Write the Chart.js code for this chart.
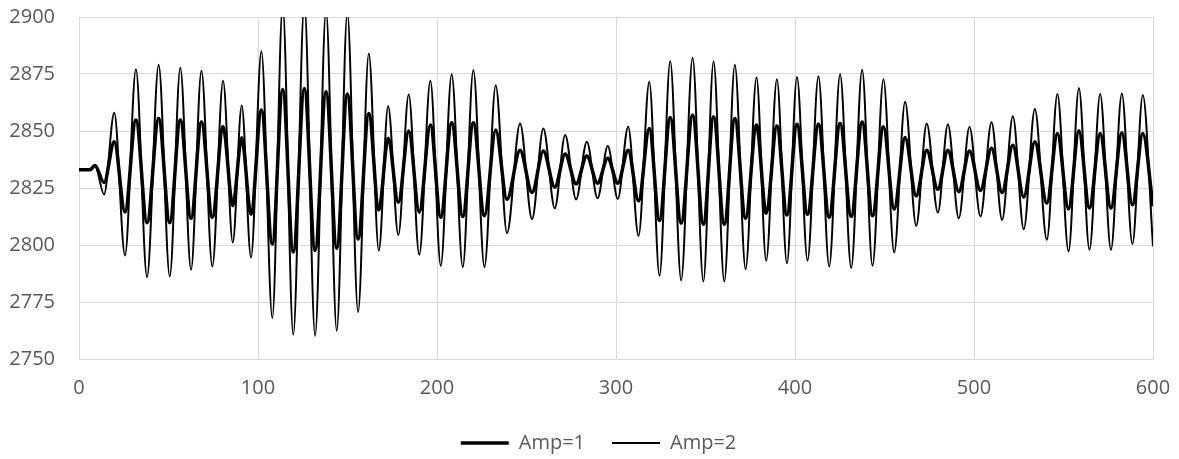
<!DOCTYPE html>
<html>
<head>
<meta charset="utf-8">
<script src="https://cdn.jsdelivr.net/npm/chart.js@4/dist/chart.umd.min.js"></script>
<style>
html,body{margin:0;padding:0;background:#ffffff;}
#wrap{width:1179px;height:459px;}
</style>
</head>
<body>
<div id="wrap"><canvas id="c" width="1179" height="459"></canvas></div>
<script>
// x positions of the read-off extrema (shared by both series)
const xPositions = [0, 6.2, 8.9, 14.0, 19.7, 25.7, 31.8, 38.0, 44.5, 50.7, 56.6, 62.6, 68.4, 74.5, 80.5, 85.9, 90.9, 96.1, 101.9, 108.0,
  113.8, 119.7, 125.9, 131.9, 138.0, 144.0, 149.9, 155.9, 161.9, 167.5, 172.7, 178.4, 184.2, 190.1, 196.3, 202.1, 208.2, 214.4, 220.3, 226.5,
  232.8, 239.1, 246.4, 253.1, 259.4, 265.8, 271.6, 277.7, 283.7, 289.7, 295.4, 301.0, 306.8, 312.6, 318.6, 324.3, 330.3, 336.4, 342.8, 348.8,
  354.5, 360.5, 366.4, 372.4, 378.5, 383.9, 389.9, 395.5, 401.1, 407.0, 413.1, 419.1, 425.2, 431.4, 437.5, 443.3, 449.4, 455.4, 461.5, 467.7,
  473.6, 479.8, 485.4, 491.5, 497.5, 503.6, 509.8, 515.7, 521.7, 527.8, 534.0, 540.7, 546.6, 552.8, 558.6, 564.5, 570.5, 576.5, 582.6, 588.5,
  594.3, 600];

// Amp=1 (thick line)
const amp1 = [2833, 2833, 2834.9, 2827.4, 2845.3, 2814.5, 2854.8, 2809.8, 2855.5, 2809.8, 2854.8, 2811.7, 2853.9, 2812.2, 2851.9, 2817.3, 2847.0, 2813.5, 2859.2, 2800.4,
  2868.2, 2796.9, 2868.6, 2797.6, 2867.2, 2798.6, 2866.2, 2802.6, 2857.7, 2815.4, 2846.8, 2818.7, 2850.0, 2814.4, 2852.6, 2812.2, 2853.6, 2812.5, 2853.6, 2812.8,
  2850.4, 2820.0, 2841.6, 2823.0, 2841.2, 2825.3, 2839.9, 2826.8, 2839.0, 2827.1, 2838.0, 2827.1, 2841.6, 2819.3, 2851.1, 2810.7, 2855.9, 2809.6, 2857.0, 2809.1,
  2856.2, 2809.1, 2855.5, 2811.7, 2852.6, 2813.9, 2852.2, 2813.2, 2853.0, 2813.5, 2853.0, 2812.2, 2853.3, 2812.5, 2854.0, 2812.8, 2851.9, 2815.7, 2847.2, 2821.5,
  2841.6, 2824.4, 2841.6, 2823.4, 2841.2, 2823.9, 2842.4, 2823.0, 2843.8, 2821.0, 2845.3, 2818.3, 2848.9, 2815.8, 2850.1, 2816.1, 2848.9, 2816.1, 2849.2, 2817.6,
  2848.9, 2817.0];

// Amp=2 (thin line)
const amp2 = [2833, 2833, 2834.9, 2822.2, 2858.0, 2795.4, 2877.1, 2785.9, 2879.1, 2786.2, 2877.7, 2789.1, 2876.4, 2790.6, 2872.0, 2801.1, 2861.2, 2794.5, 2885.0, 2768.0,
  2905, 2760.7, 2906, 2760.2, 2903, 2762.4, 2902, 2770.6, 2884.0, 2797.6, 2860.9, 2804.4, 2866.0, 2795.7, 2872.0, 2790.9, 2874.9, 2790.3, 2876.7, 2790.3,
  2870.1, 2805.2, 2853.3, 2811.3, 2851.1, 2816.1, 2848.2, 2820.0, 2845.3, 2820.5, 2843.4, 2820.2, 2851.9, 2804.0, 2871.6, 2786.5, 2880.6, 2784.5, 2882.1, 2784.0,
  2880.5, 2784.0, 2879.1, 2789.4, 2873.5, 2793.1, 2872.7, 2792.0, 2873.7, 2793.2, 2874.0, 2790.6, 2874.9, 2789.9, 2876.9, 2790.9, 2872.7, 2796.7, 2862.8, 2808.4,
  2853.3, 2814.2, 2853.0, 2811.7, 2851.9, 2812.5, 2853.8, 2811.0, 2856.5, 2806.9, 2859.6, 2802.3, 2866.2, 2797.2, 2868.9, 2797.9, 2866.2, 2797.9, 2866.5, 2800.4,
  2865.8, 2799.4];

const seriesNames = ['Amp=1', 'Amp=2'];
const xTickValues = [0, 100, 200, 300, 400, 500, 600];
const yTickValues = [2750, 2775, 2800, 2825, 2850, 2875, 2900];

const toPoints = vals => xPositions.map((x, i) => ({x: x, y: vals[i]}));
const labelFont = {family: "'Open Sans', 'Liberation Sans', sans-serif", size: 20};
const gridColor = '#d9d9d9';
const textColor = '#595959';

// shifts the legend sideways so it is centred like the reference
const legendShift = {
  id: 'legendShift',
  afterLayout(chart) {
    if (chart.legend) { chart.legend.left += 22; chart.legend.right += 22; }
  }
};

new Chart(document.getElementById('c'), {
  type: 'line',
  data: {
    datasets: [
      {label: seriesNames[0], data: toPoints(amp1), borderColor: '#000000', backgroundColor: '#000000',
       borderWidth: 3.5, pointRadius: 0, cubicInterpolationMode: 'monotone', fill: false},
      {label: seriesNames[1], data: toPoints(amp2), borderColor: '#000000', backgroundColor: '#000000',
       borderWidth: 2, pointRadius: 0, cubicInterpolationMode: 'monotone', fill: false}
    ]
  },
  plugins: [legendShift],
  options: {
    responsive: false,
    animation: false,
    devicePixelRatio: 1,
    layout: {padding: {left: 0, right: 26, top: 17, bottom: -4}},
    scales: {
      x: {
        type: 'linear', min: 0, max: 600,
        afterBuildTicks: s => { s.ticks = xTickValues.map(v => ({value: v})); },
        afterFit: s => { s.height = 47; s.paddingLeft = 0; s.paddingRight = 0; },
        grid: {color: gridColor, lineWidth: 1, drawTicks: false},
        border: {color: gridColor, width: 1},
        ticks: {padding: 17, color: textColor, font: labelFont, maxRotation: 0, callback: v => String(v)}
      },
      y: {
        type: 'linear', min: 2750, max: 2900,
        afterBuildTicks: s => { s.ticks = yTickValues.map(v => ({value: v})); },
        afterFit: s => { s.width = 79; s.paddingTop = 0; s.paddingBottom = 0; },
        grid: {color: gridColor, lineWidth: 1, drawTicks: false},
        border: {color: gridColor, width: 1},
        ticks: {padding: 24, color: textColor, font: labelFont, callback: v => String(v)}
      }
    },
    plugins: {
      legend: {
        position: 'bottom',
        labels: {usePointStyle: true, pointStyle: 'line', pointStyleWidth: 48, padding: 27,
                 color: textColor, font: labelFont}
      },
      tooltip: {enabled: false}
    }
  }
});
</script>
</body>
</html>
